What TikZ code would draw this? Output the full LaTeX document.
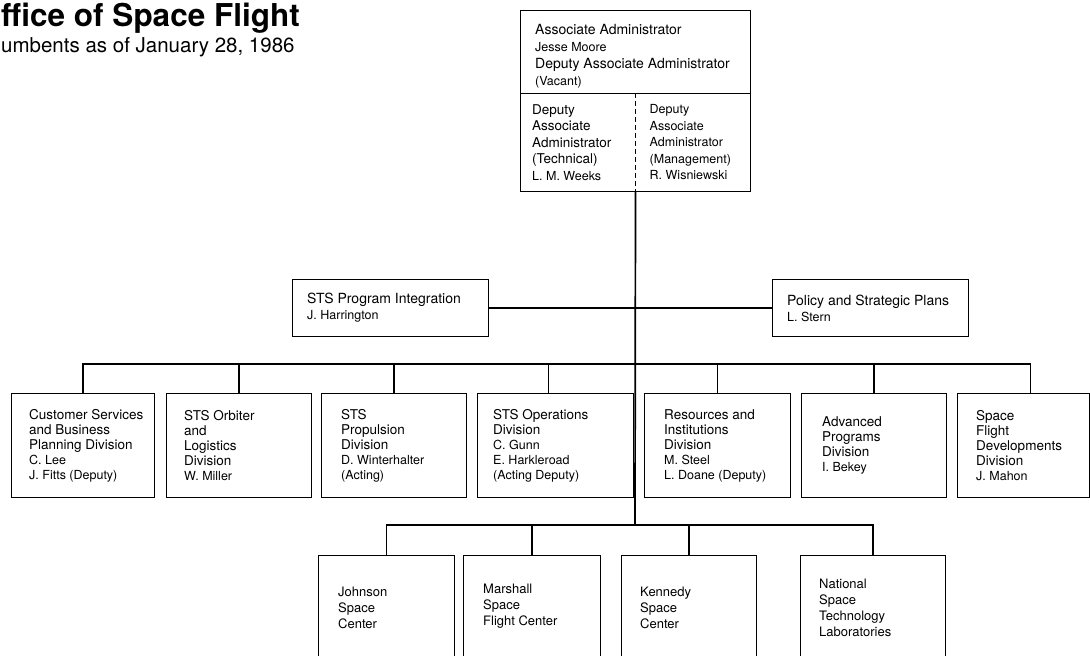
\documentclass[tikz,border=0pt]{standalone}
\usepackage{fontspec}
\setmainfont{TeX Gyre Heros}
\newcommand{\nm}{\fontsize{12.5}{15}\selectfont}
\tikzset{
  box/.style={draw, line width=1pt, anchor=north west, inner sep=0pt},
  txt/.style={anchor=west, align=left, inner sep=0pt, font=\fontsize{13.5}{15}\selectfont},
  link/.style={line width=1.7pt}
}

\begin{document}
\begin{tikzpicture}[x=1pt,y=-1pt]
 \useasboundingbox (0,0) rectangle (1090,656);
 \node[anchor=base west, inner sep=0pt, font=\fontsize{31.5}{36}\selectfont\bfseries] (ttl) at (1,26) {ffice of Space Flight};
 \node[anchor=base west, inner sep=0pt, font=\fontsize{20.5}{24}\selectfont] (sub) at (1,52) {umbents as of January 28, 1986};

 \node[box, minimum width=230, minimum height=83] (aa) at (520,10) {};
 \node[txt, font=\fontsize{14}{17}\selectfont] (aa-t) at ([xshift=15,yshift=-4]aa.west)
   {Associate Administrator\\{\nm Jesse Moore}\\Deputy Associate Administrator\\{\nm (Vacant)}};
 \node[box, minimum width=230, minimum height=98] (dep) at (520,93) {};
 \draw[dash pattern=on 5pt off 3pt, line width=0.8pt] (dep.north) -- (dep.south);
 \node[txt, font=\fontsize{13.5}{16.5}\selectfont] (tech) at ([xshift=12]dep.west)
   {Deputy\\Associate\\Administrator\\(Technical)\\{\nm L. M. Weeks}};
 \node[txt, font=\fontsize{12.5}{16.5}\selectfont] (mgmt) at ([xshift=14]dep.center)
   {Deputy\\Associate\\Administrator\\(Management)\\R. Wisniewski};

 \node[box, minimum width=196, minimum height=57] (spi) at (292,279) {};
 \node[txt, font=\fontsize{14}{16}\selectfont] (spi-t) at ([xshift=15]spi.west) {STS Program Integration\\{\nm J. Harrington}};
 \node[box, minimum width=196, minimum height=57] (psp) at (772,279) {};
 \node[txt, font=\fontsize{14}{16}\selectfont] (psp-t) at ([xshift=15]psp.west) {Policy and Strategic Plans\\{\nm L. Stern}};

 \node[box, minimum width=143, minimum height=104] (cs) at (11,393) {};
 \node[txt] (cs-t) at ([xshift=18]cs.west) {Customer Services\\and Business\\Planning Division\\{\nm C. Lee}\\{\nm J. Fitts (Deputy)}};
 \node[box, minimum width=145, minimum height=104] (orb) at (166,393) {};
 \node[txt] (orb-t) at ([xshift=18]orb.west) {STS Orbiter\\and\\Logistics\\Division\\{\nm W. Miller}};
 \node[box, minimum width=145, minimum height=104] (prop) at (321,393) {};
 \node[txt] (prop-t) at ([xshift=20]prop.west) {STS\\Propulsion\\Division\\{\nm D. Winterhalter}\\{\nm (Acting)}};
 \node[box, minimum width=156, minimum height=104] (ops) at (477,393) {};
 \node[txt] (ops-t) at ([xshift=16]ops.west) {STS Operations\\Division\\{\nm C. Gunn}\\{\nm E. Harkleroad}\\{\nm (Acting Deputy)}};
 \node[box, minimum width=146, minimum height=104] (ri) at (644,393) {};
 \node[txt] (ri-t) at ([xshift=20]ri.west) {Resources and\\Institutions\\Division\\{\nm M. Steel}\\{\nm L. Doane (Deputy)}};
 \node[box, minimum width=145, minimum height=104] (adv) at (801,393) {};
 \node[txt] (adv-t) at ([xshift=21]adv.west) {Advanced\\Programs\\Division\\{\nm I. Bekey}};
 \node[box, minimum width=132, minimum height=104] (sfd) at (957,393) {};
 \node[txt] (sfd-t) at ([xshift=19]sfd.west) {Space\\Flight\\Developments\\Division\\{\nm J. Mahon}};

 \node[box, minimum width=136, minimum height=104] (jsc) at (318,555) {};
 \node[txt, font=\fontsize{13}{16}\selectfont] (jsc-t) at ([xshift=20]jsc.west) {Johnson\\Space\\Center};
 \node[box, minimum width=137, minimum height=104] (msfc) at (463,555) {};
 \node[txt, font=\fontsize{13}{16}\selectfont] (msfc-t) at ([xshift=20,yshift=1]msfc.west) {Marshall\\Space\\Flight Center};
 \node[box, minimum width=135, minimum height=104] (ksc) at (621,555) {};
 \node[txt, font=\fontsize{13}{16}\selectfont] (ksc-t) at ([xshift=19]ksc.west) {Kennedy\\Space\\Center};
 \node[box, minimum width=145, minimum height=104] (nstl) at (800,555) {};
 \node[txt, font=\fontsize{13}{16}\selectfont] (nstl-t) at ([xshift=19]nstl.west) {National\\Space\\Technology\\Laboratories};

 \coordinate (j2) at (635,364);
 \coordinate (j3) at (635,525);
 \draw[link] (dep.south) -- (j3);
 \draw[link] (spi.east) -- (psp.west);
 \draw[link] (cs.north) |- (j2) -| ([xshift=7]sfd.north);
 \foreach \b/\s in {orb/0, prop/0, ops/-7, ri/0, adv/0}
   \draw[link] ([xshift=\s]\b.north) -- ([xshift=\s]\b.north |- j2);
 \draw[link] (jsc.north) |- (j3) -| (nstl.north);
 \foreach \b in {msfc, ksc}
   \draw[link] (\b.north) -- (\b.north |- j3);
\end{tikzpicture}
\end{document}
